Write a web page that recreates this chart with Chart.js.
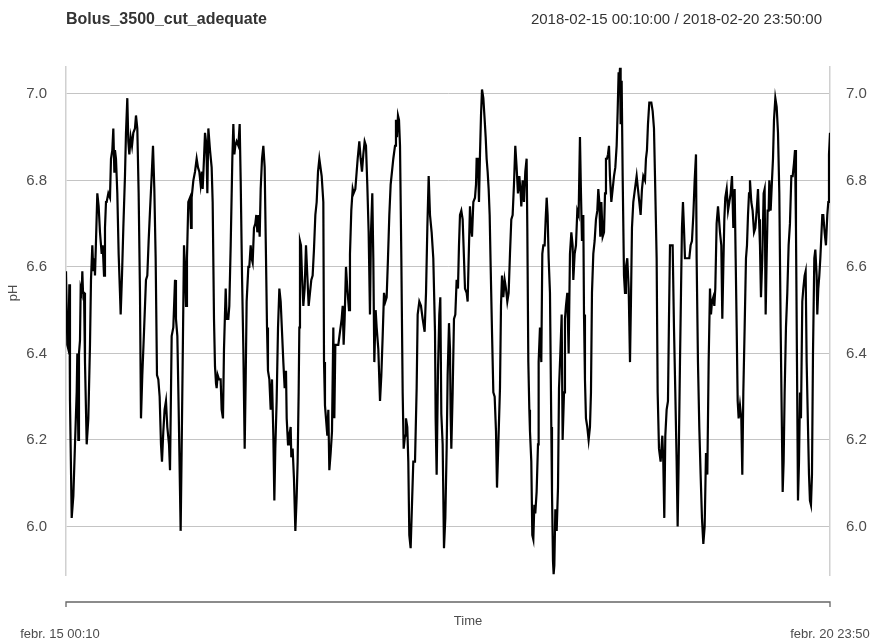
<!DOCTYPE html>
<html>
<head>
<meta charset="utf-8">
<script src="https://cdn.jsdelivr.net/npm/chart.js@4.4.1/dist/chart.umd.min.js"></script>
<style>
  html, body { margin: 0; padding: 0; background: #fff; }
</style>
</head>
<body>
<canvas id="grafico" width="873" height="640"></canvas>
<script>
const titulo  = 'Bolus_3500_cut_adequate';
const periodo = '2018-02-15 00:10:00 / 2018-02-20 23:50:00';
const tituloX = 'Time';
const tituloY = 'pH';
const rotulosX = ['febr. 15 00:10', 'febr. 20 23:50'];
const limitesX = [0, 143.67];          // horas desde 15/02 00:10
const ticksY   = [6.0, 6.2, 6.4, 6.6, 6.8, 7.0];
const limitesY = [5.888, 7.062];

// horas desde o início
const horas = [
  0.00,0.25,0.44,0.63,0.75,1.07,1.38,1.69,2.01,2.13,
  2.32,2.44,2.63,2.76,2.95,3.07,3.20,3.39,3.57,3.89,
  4.20,4.51,4.70,4.95,5.14,5.33,5.45,5.64,5.89,6.14,
  6.39,6.71,6.90,7.15,7.33,7.52,7.65,7.96,8.27,8.46,
  8.71,8.90,9.09,9.21,9.40,9.65,9.90,10.15,10.28,10.53,
  10.78,11.09,11.28,11.53,11.72,11.91,12.16,12.41,12.66,12.97,
  13.16,13.41,13.66,13.91,14.10,14.35,14.67,15.04,15.29,15.54,
  15.80,16.11,16.36,16.61,16.86,17.11,17.36,17.61,17.86,18.05,
  18.30,18.54,18.80,19.05,19.37,19.56,19.87,20.18,20.50,20.68,
  20.94,21.19,21.44,21.56,21.75,21.94,22.19,22.38,22.57,22.75,
  23.00,
  23.32,23.51,23.63,23.95,24.26,24.57,24.82,25.07,25.32,25.57,
  25.70,25.95,26.14,26.33,26.45,26.58,26.77,27.08,27.39,27.58,
  27.83,28.02,28.21,28.33,28.52,28.77,29.08,29.27,29.52,29.71,
  30.03,30.21,30.53,30.71,30.97,31.28,31.47,31.66,31.84,32.09,
  32.41,32.66,32.85,33.10,33.35,33.60,33.79,33.97,34.29,34.47,
  34.73,34.91,35.10,35.35,35.60,35.79,35.98,36.23,36.42,36.61,
  36.86,37.11,37.36,37.61,37.80,37.98,38.24,38.49,38.74,38.99,
  39.18,39.36,39.61,39.87,40.12,40.37,40.62,40.87,41.12,41.37,
  41.50,41.75,41.93,42.12,42.25,42.37,42.62,42.87,43.13,43.38,
  43.56,43.75,43.88,44.00,44.19,44.38,44.63,44.88,45.13,45.38,
  45.63,45.88,46.13,46.38,46.63,46.89,47.14,47.39,47.64,
  47.76,48.08,48.39,48.52,48.70,48.89,49.14,49.33,49.52,49.77,
  50.02,50.27,50.46,50.65,50.90,51.21,51.52,51.84,52.03,52.21,
  52.40,52.65,52.90,53.22,53.40,53.65,53.91,54.09,54.41,54.66,
  54.85,55.16,55.41,55.66,55.91,56.16,56.41,56.66,56.91,57.16,
  57.35,57.60,57.79,57.98,58.23,58.42,58.73,59.05,59.30,59.55,
  59.80,60.05,60.30,60.55,60.80,61.05,61.30,61.55,61.87,62.05,
  62.24,62.43,62.62,62.81,63.06,63.31,63.50,63.75,63.93,64.18,
  64.37,64.56,64.81,65.06,65.31,65.63,65.94,66.13,66.44,66.75,
  67.07,67.44,67.70,67.95,68.20,68.45,68.76,69.07,69.39,69.51,
  69.70,69.95,70.20,70.39,70.58,70.83,71.08,71.33,71.58,71.77,
  72.02,
  72.21,72.33,72.46,72.71,72.96,73.21,73.46,73.71,73.90,74.09,
  74.34,74.59,74.84,75.03,75.34,75.53,75.72,75.97,76.16,76.35,
  76.60,76.91,77.10,77.22,77.47,77.66,77.85,78.04,78.23,78.48,
  78.73,78.92,79.10,79.29,79.48,79.67,79.86,80.11,80.36,80.61,
  80.86,81.05,81.30,81.61,81.80,81.99,82.24,82.49,82.74,82.99,
  83.24,83.49,83.74,83.99,84.24,84.49,84.74,84.99,85.25,85.50,
  85.62,85.87,86.12,86.37,86.62,86.75,86.94,87.13,87.25,87.50,
  87.69,87.88,88.07,88.25,88.50,88.76,88.88,89.13,89.38,89.57,
  89.76,90.01,90.20,90.39,90.57,90.76,91.01,91.26,91.39,91.58,
  91.70,91.83,92.02,92.27,92.52,92.71,92.96,93.21,93.39,93.65,
  93.83,94.02,94.27,94.52,94.77,95.03,95.27,95.40,95.65,95.90,
  96.15,96.40,
  96.65,96.84,97.03,97.28,97.41,97.59,97.78,98.03,98.28,98.53,
  98.72,98.91,99.16,99.41,99.66,99.91,100.10,100.29,100.48,100.67,
  100.92,101.17,101.36,101.54,101.73,101.92,102.11,102.29,102.55,102.80,
  103.05,103.30,103.55,103.74,103.92,104.05,104.18,104.30,104.49,104.68,
  104.93,105.12,105.30,105.55,105.81,106.06,106.24,106.43,106.68,106.99,
  107.31,107.56,107.81,108.06,108.31,108.56,108.88,109.06,109.25,109.44,
  109.69,110.07,110.32,110.57,110.76,111.07,111.26,111.51,111.82,112.14,
  112.32,112.51,112.70,112.95,113.20,113.39,113.58,113.89,114.08,114.33,
  114.58,114.83,115.02,115.21,115.46,115.65,115.83,116.02,116.21,116.40,
  116.71,117.02,117.21,117.46,117.71,117.97,118.22,118.47,118.59,118.84,
  119.09,119.34,119.59,119.85,120.10,120.35,120.60,120.85,
  121.10,121.29,121.48,121.73,121.92,122.10,122.35,122.61,122.98,123.23,
  123.42,123.61,123.80,123.98,124.24,124.49,124.74,124.99,125.24,125.49,
  125.74,125.93,126.12,126.31,126.49,126.74,126.99,127.18,127.37,127.62,
  127.87,128.06,128.25,128.44,128.62,128.87,129.12,129.38,129.63,129.88,
  130.13,130.32,130.50,130.69,130.94,131.19,131.38,131.57,131.76,131.94,
  132.13,132.26,132.51,132.76,132.95,133.14,133.39,133.64,133.89,134.14,
  134.39,134.58,134.77,134.95,135.14,135.39,135.64,135.89,136.14,136.40,
  136.65,136.90,137.09,137.27,137.46,137.65,137.84,138.03,138.21,138.46,
  138.65,138.90,139.09,139.28,139.53,139.72,139.90,140.09,140.28,140.47,
  140.72,140.91,141.16,141.28,141.47,141.66,141.85,142.04,142.22,142.41,
  142.66,142.91,143.16,143.35,143.48,143.67
];

// pH lido em cada instante
const ph = [
  6.59,6.42,6.41,6.56,6.29,6.02,6.07,6.19,6.31,6.40,
  6.20,6.40,6.43,6.55,6.54,6.59,6.54,6.54,6.38,6.19,
  6.25,6.42,6.57,6.65,6.59,6.62,6.58,6.66,6.77,6.74,
  6.68,6.63,6.65,6.58,6.69,6.75,6.75,6.77,6.76,6.85,
  6.87,6.92,6.82,6.87,6.85,6.77,6.63,6.54,6.49,6.58,
  6.69,6.81,6.91,6.99,6.89,6.86,6.90,6.88,6.91,6.92,
  6.95,6.92,6.77,6.54,6.25,6.35,6.45,6.57,6.58,6.66,
  6.73,6.81,6.88,6.78,6.62,6.35,6.34,6.30,6.19,6.15,
  6.22,6.27,6.29,6.23,6.19,6.13,6.44,6.46,6.57,6.48,
  6.44,6.27,6.08,5.99,6.18,6.38,6.65,6.60,6.51,6.62,
  6.75,
  6.76,6.69,6.76,6.80,6.82,6.85,6.83,6.82,6.79,6.82,
  6.78,6.85,6.91,6.89,6.85,6.77,6.92,6.87,6.83,6.75,
  6.48,6.37,6.33,6.32,6.35,6.34,6.34,6.27,6.25,6.41,
  6.55,6.48,6.48,6.51,6.65,6.85,6.93,6.86,6.88,6.89,
  6.88,6.93,6.80,6.58,6.41,6.18,6.34,6.52,6.60,6.60,
  6.65,6.62,6.61,6.69,6.70,6.72,6.68,6.72,6.67,6.78,
  6.85,6.88,6.83,6.62,6.46,6.36,6.34,6.27,6.34,6.21,
  6.06,6.18,6.29,6.46,6.55,6.52,6.45,6.38,6.32,6.36,
  6.25,6.19,6.21,6.22,6.23,6.16,6.18,6.11,5.99,6.07,
  6.15,6.31,6.46,6.66,6.65,6.58,6.51,6.55,6.65,6.58,
  6.51,6.54,6.57,6.58,6.64,6.72,6.75,6.82,6.85,
  6.85,6.81,6.75,6.38,6.28,6.25,6.21,6.27,6.13,6.17,
  6.22,6.46,6.25,6.42,6.42,6.42,6.45,6.48,6.51,6.42,
  6.48,6.60,6.55,6.50,6.63,6.73,6.78,6.77,6.78,6.82,
  6.85,6.89,6.85,6.82,6.86,6.89,6.88,6.79,6.68,6.49,
  6.68,6.77,6.62,6.38,6.50,6.46,6.41,6.29,6.35,6.44,
  6.54,6.52,6.53,6.62,6.72,6.79,6.82,6.85,6.88,6.94,
  6.90,6.95,6.94,6.88,6.62,6.31,6.18,6.21,6.25,6.23,
  6.15,5.98,5.95,6.05,6.15,6.15,6.32,6.49,6.52,6.51,
  6.48,6.45,6.54,6.69,6.81,6.72,6.68,6.62,6.45,6.25,
  6.12,6.36,6.49,6.53,6.26,6.19,5.95,6.02,6.18,6.35,
  6.47,
  6.41,6.26,6.18,6.31,6.48,6.49,6.57,6.55,6.65,6.72,
  6.73,6.71,6.62,6.55,6.54,6.52,6.62,6.74,6.69,6.67,
  6.75,6.76,6.79,6.85,6.85,6.75,6.86,6.95,7.01,6.99,
  6.94,6.90,6.85,6.82,6.78,6.72,6.60,6.45,6.31,6.30,
  6.22,6.09,6.19,6.32,6.51,6.58,6.53,6.57,6.55,6.52,
  6.54,6.63,6.71,6.72,6.79,6.88,6.83,6.77,6.81,6.77,
  6.74,6.80,6.75,6.82,6.85,6.69,6.38,6.27,6.22,6.15,
  5.98,5.97,6.05,6.03,6.08,6.19,6.38,6.46,6.38,6.63,
  6.65,6.65,6.71,6.76,6.72,6.62,6.54,6.23,6.08,5.92,
  5.89,5.91,6.04,5.99,6.09,6.32,6.40,6.49,6.20,6.31,
  6.48,6.51,6.54,6.40,6.63,6.68,6.65,6.57,6.63,6.65,
  6.73,6.72,
  6.90,6.77,6.66,6.72,6.49,6.34,6.25,6.23,6.20,6.23,
  6.31,6.54,6.63,6.66,6.71,6.73,6.78,6.75,6.67,6.75,
  6.67,6.68,6.77,6.85,6.85,6.86,6.88,6.81,6.75,6.78,
  6.81,6.83,6.88,6.96,7.05,7.03,7.06,6.93,7.03,6.81,
  6.58,6.54,6.60,6.62,6.55,6.38,6.52,6.69,6.75,6.78,
  6.81,6.78,6.75,6.72,6.78,6.81,6.80,6.85,6.87,6.93,
  6.98,6.98,6.96,6.92,6.81,6.62,6.31,6.18,6.15,6.21,
  6.15,6.02,6.21,6.27,6.29,6.48,6.65,6.65,6.65,6.46,
  6.31,6.15,6.00,6.15,6.38,6.54,6.69,6.75,6.69,6.62,
  6.62,6.62,6.62,6.65,6.66,6.72,6.80,6.86,6.62,6.38,
  6.23,6.12,6.02,5.96,6.00,6.17,6.12,6.38,
  6.55,6.49,6.52,6.53,6.51,6.55,6.70,6.74,6.68,6.65,
  6.48,6.60,6.71,6.76,6.78,6.73,6.75,6.77,6.81,6.69,
  6.78,6.62,6.46,6.29,6.25,6.28,6.25,6.12,6.31,6.46,
  6.62,6.65,6.72,6.77,6.80,6.75,6.73,6.68,6.69,6.73,
  6.78,6.71,6.65,6.53,6.62,6.77,6.78,6.49,6.62,6.73,
  6.73,6.80,6.73,6.80,6.85,6.94,6.99,6.97,6.91,6.77,
  6.46,6.27,6.08,6.15,6.31,6.46,6.54,6.65,6.70,6.81,
  6.81,6.84,6.87,6.69,6.38,6.06,6.15,6.31,6.25,6.52,
  6.55,6.58,6.59,6.38,6.23,6.12,6.06,6.05,6.12,6.40,
  6.62,6.64,6.58,6.49,6.55,6.58,6.62,6.67,6.72,6.72,
  6.68,6.65,6.72,6.75,6.86,6.91
];

const fonte = '"Liberation Sans", Arial, sans-serif';
const corTexto = '#4d4d4d';

// título, eixo inferior e rótulos desenhados à parte (estilo xts)
const moldura = {
    id: 'moldura',
    afterDraw(chart) {
        const { ctx, chartArea: a, scales } = chart;
        ctx.save();
        ctx.textBaseline = 'middle';

        ctx.fillStyle = '#333';
        ctx.font = 'bold 16px ' + fonte;
        ctx.textAlign = 'left';
        ctx.fillText(titulo, a.left, 20);
        ctx.font = '15px ' + fonte;
        ctx.textAlign = 'right';
        ctx.fillText(periodo, a.right - 8, 20);

        // eixo do tempo
        const yEixo = 602;
        const x0 = scales.x.getPixelForValue(limitesX[0]);
        const x1 = scales.x.getPixelForValue(limitesX[1]);
        ctx.strokeStyle = '#666';
        ctx.lineWidth = 1.3;
        ctx.beginPath();
        ctx.moveTo(x0, yEixo + 5); ctx.lineTo(x0, yEixo);
        ctx.lineTo(x1, yEixo); ctx.lineTo(x1, yEixo + 5);
        ctx.stroke();

        ctx.fillStyle = corTexto;
        ctx.font = '13px ' + fonte;
        ctx.textAlign = 'center';
        ctx.fillText(rotulosX[0], x0 - 6, 634);
        ctx.fillText(rotulosX[1], x1, 634);
        ctx.fillText(tituloX, 468, 621);

        ctx.translate(13, 293);
        ctx.rotate(-Math.PI / 2);
        ctx.fillText(tituloY, 0, 0);
        ctx.restore();
    }
};

const pontos = horas.map((h, i) => ({ x: h, y: ph[i] }));
const fixarTicks = s => { s.ticks = ticksY.map(v => ({ value: v })); };

new Chart(document.getElementById('grafico'), {
    type: 'scatter',
    data: {
        datasets: [{
            data: pontos,
            showLine: true,
            borderColor: '#000',
            borderWidth: 2.2,
            pointRadius: 0,
            pointHoverRadius: 0,
            tension: 0
        }]
    },
    options: {
        responsive: false,
        animation: false,
        devicePixelRatio: 1,
        layout: { padding: { top: 67, bottom: 65, left: 0, right: 0 } },
        plugins: { legend: { display: false }, tooltip: { enabled: false } },
        scales: {
            x: { type: 'linear', min: limitesX[0], max: limitesX[1], display: false },
            y: {
                position: 'left',
                min: limitesY[0], max: limitesY[1],
                afterBuildTicks: fixarTicks,
                afterFit: s => { s.width = 66; },
                grid: { color: '#c4c4c4', lineWidth: 1, drawTicks: false },
                border: { color: '#d0d0d0', width: 1.5 },
                ticks: { color: corTexto, padding: 19, font: { size: 15, family: fonte }, callback: v => v.toFixed(1) }
            },
            y2: {
                position: 'right',
                min: limitesY[0], max: limitesY[1],
                afterBuildTicks: fixarTicks,
                afterFit: s => { s.width = 43; },
                grid: { display: false, drawTicks: false },
                border: { color: '#d0d0d0', width: 1.5 },
                ticks: { color: corTexto, padding: 16, font: { size: 15, family: fonte }, callback: v => v.toFixed(1) }
            }
        }
    },
    plugins: [moldura]
});
</script>
</body>
</html>
